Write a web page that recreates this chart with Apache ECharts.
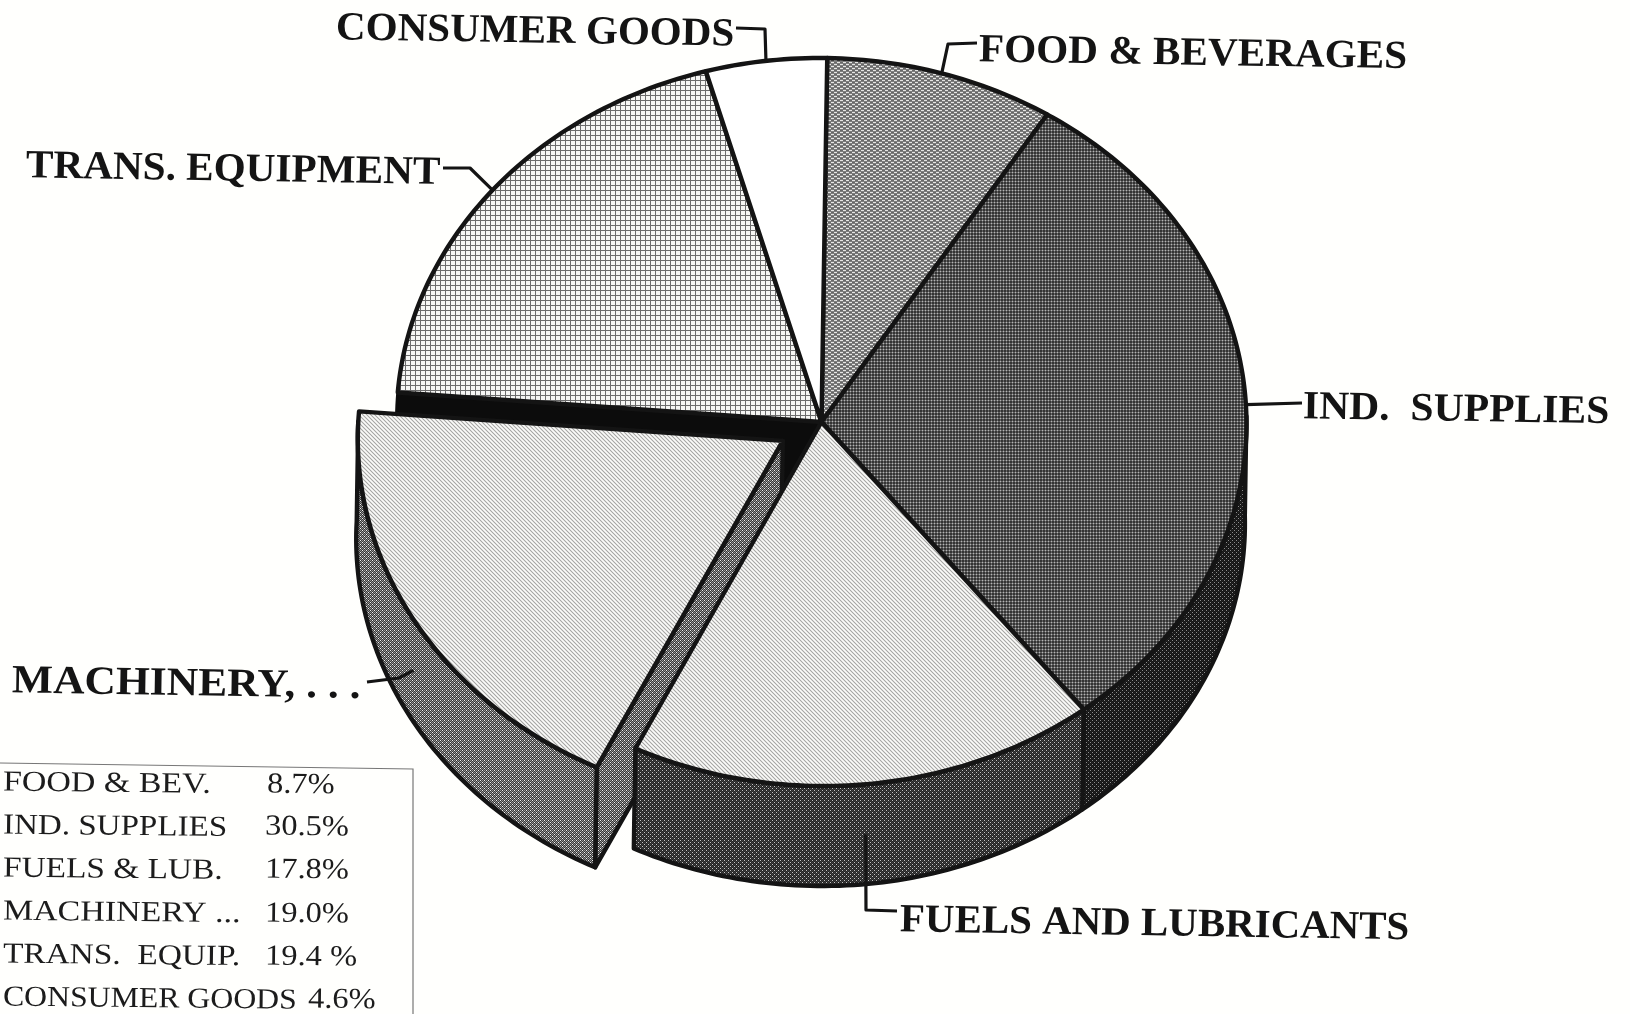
<!DOCTYPE html>
<html>
<head>
<meta charset="utf-8">
<style>html,body{margin:0;padding:0;background:#fffffd}#c{width:1630px;height:1014px}</style>
<script src="https://cdn.jsdelivr.net/npm/echarts@6/dist/echarts.min.js"></script>
</head>
<body>
<div id="c"></div>
<script>
// ---- data ----
const categories = ['FOOD & BEVERAGES', 'IND.  SUPPLIES', 'FUELS AND LUBRICANTS', 'MACHINERY, . . .', 'TRANS. EQUIPMENT', 'CONSUMER GOODS'];
const shares = [8.7, 30.5, 17.8, 19.0, 19.4, 4.6];
const explodedFlags = [0, 0, 0, 1, 0, 0];
const tableNames = ['FOOD & BEV.', 'IND. SUPPLIES', 'FUELS & LUB.', 'MACHINERY ...', 'TRANS.  EQUIP.', 'CONSUMER GOODS'];
const tableValues = ['8.7%', '30.5%', '17.8%', '19.0%', '19.4 %', '4.6%'];

// ---- layout ----
const CX = 821.5, CY = 422, RX = 425, RY = 364, DEPTH = 100, EXPLODE = 0.105;
const TILT = 0.9 * Math.PI / 180;
const INK = '#141414';
const SERIF = '"Liberation Serif","Times New Roman",serif';
const labelPos = [[979, 51], [1303, 408], [900, 921], [12, 682], [26, 167], [336, 29]];
const labelStretch = [1.03, 1.04, 1.023, 1.088, 1.03, 1.027];
const leaderTail = [
  [[948, 44], [977, 43]],
  [[1302, 403]],
  [[866, 910], [897, 911]],
  [[399, 678], [367, 682]],
  [[470, 168], [443, 168]],
  [[765, 29], [736, 28]]
];

function tile(w, h, paint) {
  const c = document.createElement('canvas');
  c.width = w; c.height = h;
  const g = c.getContext('2d');
  for (let y = 0; y < h; y++) for (let x = 0; x < w; x++) {
    g.fillStyle = paint(x, y);
    g.fillRect(x, y, 1, 1);
  }
  return { image: c, repeat: 'repeat' };
}
const stripes = tile(4, 4, (x, y) => { const k = (x - y + 8) % 4; return k === 0 ? '#a8a8a6' : k === 2 ? '#fbfbf9' : '#e4e4e2'; });
const topFill = [
  tile(6, 4, (x, y) => y === 0 ? (x < 3 ? '#e6e6e4' : '#686868') : y === 2 ? (x >= 3 ? '#e6e6e4' : '#686868') : '#7e7e7e'),
  tile(3, 3, (x, y) => (x === 1 && y === 1) ? '#b4b4b4' : (x === 1 || y === 1) ? '#646464' : '#343434'),
  stripes,
  stripes,
  tile(5, 5, (x, y) => (x === 0 || y === 0) ? '#6c6c6c' : '#f6f6f4'),
  '#ffffff'
];
const dots = (hi, mid, lo) => tile(4, 4, (x, y) => {
  const a = (x + y) % 4, b = (x - y + 4) % 4;
  return (a === 0 && b === 0) || (a === 0 && b === 2 && x % 2 === 0) ? hi : (a % 2 === 0 || b % 2 === 0) && x % 2 === y % 2 ? mid : lo;
});
const wallFill = [
  null,
  dots('#8c8c8c', '#222222', '#141414'),
  dots('#c4c4c4', '#404040', '#242424'),
  dots('#f0f0f0', '#929292', '#383838'),
  null,
  null
];

// ---- geometry driven by the values ----
const cumulative = [];
shares.reduce((sum, v, i) => { cumulative[i] = sum; return sum + v; }, 0);
const total = shares.reduce((a, b) => a + b, 0);
const angleOf = p => p / total * 360;

function pt(deg, off, depth, radial) {
  const a = deg * Math.PI / 180, r = radial === undefined ? 1 : radial;
  const dx = off[0] + r * RX * Math.sin(a);
  const dy = off[1] - r * RY * Math.cos(a) + depth;
  return [CX + dx * Math.cos(TILT) - dy * Math.sin(TILT), CY + dx * Math.sin(TILT) + dy * Math.cos(TILT)];
}
function arc(a0, a1, off, depth) {
  const out = [], n = Math.max(2, Math.ceil(Math.abs(a1 - a0)));
  for (let i = 0; i <= n; i++) out.push(pt(a0 + (a1 - a0) * i / n, off, depth));
  return out;
}
const lineStyle = fill => ({ fill: fill, stroke: INK, lineWidth: 4.4, lineJoin: 'round' });

function renderSlice(params, api) {
  const i = api.value(0), v = api.value(1);
  const a0 = angleOf(cumulative[i]), a1 = a0 + angleOf(v), mid = (a0 + a1) / 2;
  const m = mid * Math.PI / 180;
  const off = explodedFlags[i] ? [EXPLODE * RX * Math.sin(m), -EXPLODE * RY * Math.cos(m)] : [0, 0];
  const kids = [];
  const front = explodedFlags[i] ? 3 : 10;

  if (explodedFlags[i]) {
    // the place the slice was pulled out of
    kids.push({ type: 'polygon', z2: 1, shape: { points: [pt(0, [0, 0], 0, 0)].concat(arc(a0, a1, [0, 0], 0)) },
      style: { fill: '#0c0c0c', stroke: '#0c0c0c', lineWidth: 3 } });
    // radial cut face
    kids.push({ type: 'polygon', z2: 2, shape: { points: [pt(0, off, 0, 0), pt(0, off, DEPTH, 0), pt(a0, off, DEPTH), pt(a0, off, 0)] },
      style: lineStyle(wallFill[i]) });
  }
  const w0 = Math.max(a0, 88), w1 = Math.min(a1, 272);
  if (w1 > w0 && wallFill[i]) {
    const pts = arc(w0, w1, off, 0).concat(arc(w1, w0, off, DEPTH));
    kids.push({ type: 'polygon', z2: front, shape: { points: pts }, style: lineStyle(wallFill[i]) });
  }
  kids.push({ type: 'polygon', z2: front + 2, shape: { points: [pt(0, off, 0, 0)].concat(arc(a0, a1, off, 0)) },
    style: lineStyle(topFill[i]) });

  // leader line and callout
  const wallHit = mid > 90 && mid < 270 ? DEPTH / 2 : 0;
  const anchor = pt(mid, off, wallHit);
  kids.push({ type: 'polyline', z2: 30, shape: { points: [anchor].concat(leaderTail[i]) },
    style: { fill: 'none', stroke: INK, lineWidth: 3.2, lineJoin: 'round' } });
  kids.push({ type: 'text', z2: 31, x: labelPos[i][0], y: labelPos[i][1], rotation: -TILT, scaleX: labelStretch[i],
    style: { text: categories[i], font: 'bold 40px ' + SERIF, fill: INK, verticalAlign: 'middle', align: 'left' } });
  return { type: 'group', children: kids };
}

// ---- small table ----
const rowY = [783, 826, 869, 912, 955, 998];
const valueRowY = [785, 827, 870, 914, 957, 1000];
const valueX = [267, 265, 265, 265, 265, 308];
const nameStretch = [1.17, 1.14, 1.15, 1.17, 1.15, 1.095];
const tableFont = '29px ' + SERIF;
const graphic = [{ type: 'polyline', silent: true, z: 1,
  shape: { points: [[0, 763], [413, 769], [413, 1014]] },
  style: { fill: 'none', stroke: '#777', lineWidth: 1.2 } }];
tableNames.forEach((name, i) => {
  graphic.push({ type: 'text', x: 3, y: rowY[i], rotation: -TILT / 1.5, scaleX: nameStretch[i], z: 2,
    style: { text: name, font: tableFont, fill: '#1c1c1c', verticalAlign: 'middle' } });
  graphic.push({ type: 'text', x: valueX[i], y: valueRowY[i], rotation: -TILT / 1.5, scaleX: 1.12, z: 2,
    style: { text: tableValues[i], font: tableFont, fill: '#1c1c1c', verticalAlign: 'middle' } });
});

const chart = echarts.init(document.getElementById('c'), null, { renderer: 'canvas' });
chart.setOption({
  backgroundColor: '#fffffd',
  animation: false,
  tooltip: { show: false },
  graphic: graphic,
  series: [{
    type: 'custom',
    coordinateSystem: 'none',
    silent: true,
    renderItem: renderSlice,
    data: shares.map((v, i) => [i, v])
  }]
});
</script>
</body>
</html>
